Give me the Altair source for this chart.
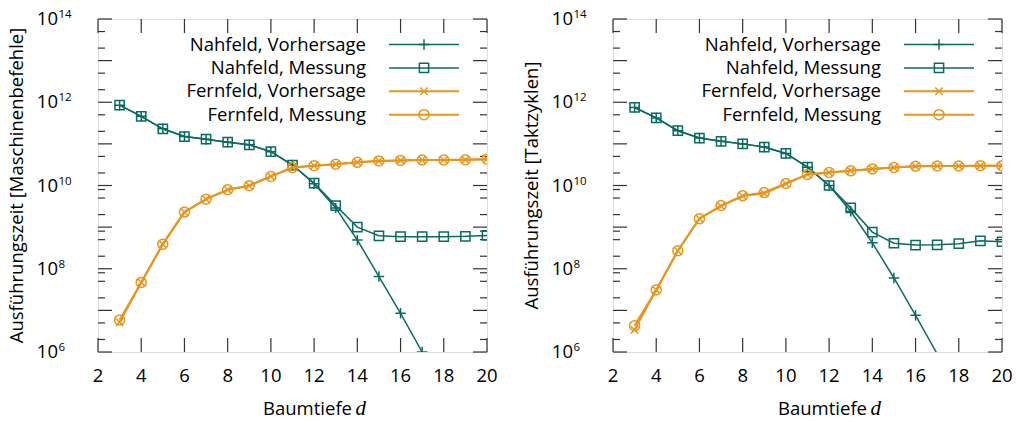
import altair as alt
import pandas as pd

# ---------------- data ----------------
depth = list(range(3, 21))
depth_pred = list(range(3, 18))

# left panel: Maschinenbefehle
left_nah_vor = [8.5e11, 4.6e11, 2.3e11, 1.5e11, 1.3e11, 1.1e11, 9.5e10, 6.5e10,
                3.1e10, 1.1e10, 2.9e9, 4.9e8, 6.5e7, 8.5e6, 1.0e6]
left_nah_mes = [8.5e11, 4.6e11, 2.3e11, 1.5e11, 1.3e11, 1.1e11, 9.5e10, 6.5e10,
                3.1e10, 1.14e10, 3.3e9, 1.0e9, 6.2e8, 5.9e8, 5.9e8, 5.9e8, 6.0e8, 6.3e8]
left_fern_vor = [5.2e6, 4.7e7, 3.9e8, 2.3e9, 4.7e9, 7.9e9, 9.9e9, 1.65e10, 2.7e10,
                 3.0e10, 3.25e10, 3.6e10, 3.9e10, 4.0e10, 4.1e10, 4.1e10, 4.15e10, 4.3e10]
left_fern_mes = [5.9e6, 4.7e7, 3.9e8, 2.3e9, 4.7e9, 7.9e9, 9.9e9, 1.65e10, 2.7e10,
                 3.0e10, 3.25e10, 3.6e10, 3.9e10, 4.0e10, 4.1e10, 4.1e10, 4.15e10, 4.3e10]

# right panel: Taktzyklen
right_nah_vor = [7.5e11, 4.2e11, 2.07e11, 1.38e11, 1.15e11, 1.0e11, 8.4e10, 5.9e10,
                 2.75e10, 1.0e10, 2.4e9, 4.2e8, 6.0e7, 7.6e6, 9.0e5]
right_nah_mes = [7.5e11, 4.2e11, 2.07e11, 1.38e11, 1.15e11, 1.0e11, 8.4e10, 5.9e10,
                 2.75e10, 1.0e10, 2.9e9, 7.6e8, 4.1e8, 3.7e8, 3.75e8, 4.0e8, 4.7e8, 4.45e8]
right_fern_vor = [3.4e6, 3.1e7, 2.7e8, 1.6e9, 3.2e9, 5.6e9, 6.4e9, 1.1e10, 1.85e10,
                  2.05e10, 2.25e10, 2.5e10, 2.7e10, 2.9e10, 2.95e10, 2.95e10, 3.0e10, 3.0e10]
right_fern_mes = [4.3e6, 3.1e7, 2.7e8, 1.6e9, 3.3e9, 5.7e9, 6.8e9, 1.12e10, 1.85e10,
                  2.05e10, 2.25e10, 2.5e10, 2.7e10, 2.9e10, 2.95e10, 2.95e10, 3.0e10, 3.0e10]

series_names = ["Nahfeld, Vorhersage", "Nahfeld, Messung",
                "Fernfeld, Vorhersage", "Fernfeld, Messung"]

x_tick_values = list(range(2, 21, 2))
y_major_ticks = [10.0 ** k for k in range(6, 15)]
y_minor_ticks = [m * 10.0 ** k for k in range(6, 14) for m in (2, 5)] + [8e7, 8e8, 8e9]
y_label_values = [1e6, 1e8, 1e10, 1e12, 1e14]
y_label_exps = ["6", "8", "10", "12", "14"]

# ---------------- styling ----------------
W, H = 389, 333
TEAL = "#0b6b60"
ORANGE = "#e8951c"
FONT = "Open Sans"
FS = 18.5
PLUS = "M-1,0L1,0M0,-1L0,1"
CROSS = "M-1,-1L1,1M-1,1L1,-1"
colors = [TEAL, TEAL, ORANGE, ORANGE]
shapes = [PLUS, "square", CROSS, "circle"]
sizes = [110, 85, 55, 100]
widths = [1.5, 1.5, 2.0, 2.0]

xscale = alt.Scale(domain=[2, 20], nice=False, zero=False)
yscale = alt.Scale(type="log", domain=[1e6, 1e14], nice=False)


def panel(nv, nm, fv, fm, ytitle):
    vals = [nv, nm, fv, fm]
    layers = []
    # ticks (inward, mirrored)
    tmaj = pd.DataFrame({"v": y_major_ticks})
    tmin = pd.DataFrame({"v": y_minor_ticks})
    tx = pd.DataFrame({"v": x_tick_values})
    tick_style = dict(color="#333333", strokeWidth=1.2)
    for df, ln in ((tmaj, 14), (tmin, 7)):
        layers.append(alt.Chart(df).mark_rule(**tick_style).encode(
            y=alt.Y("v:Q", scale=yscale, axis=None), x=alt.value(0), x2=alt.value(ln)))
        layers.append(alt.Chart(df).mark_rule(**tick_style).encode(
            y=alt.Y("v:Q", scale=yscale, axis=None), x=alt.value(W), x2=alt.value(W - ln)))
    layers.append(alt.Chart(tx).mark_rule(**tick_style).encode(
        x=alt.X("v:Q", scale=xscale, axis=None), y=alt.value(H), y2=alt.value(H - 14)))
    layers.append(alt.Chart(tx).mark_rule(**tick_style).encode(
        x=alt.X("v:Q", scale=xscale, axis=None), y=alt.value(0), y2=alt.value(14)))

    # tick labels
    ylab = pd.DataFrame({"v": y_label_values, "e": y_label_exps, "b": ["10"] * 5})
    layers.append(alt.Chart(ylab).mark_text(align="right", baseline="middle", font=FONT,
                                            fontSize=FS, color="black").encode(
        y=alt.Y("v:Q", scale=yscale, axis=None), x=alt.value(-40), text="b:N"))
    layers.append(alt.Chart(ylab).mark_text(align="left", baseline="alphabetic", font=FONT,
                                            fontSize=11.5, color="black", dy=-1).encode(
        y=alt.Y("v:Q", scale=yscale, axis=None), x=alt.value(-39.5), text="e:N"))
    layers.append(alt.Chart(tx).mark_text(align="center", baseline="middle", font=FONT,
                                          fontSize=FS, color="black").encode(
        x=alt.X("v:Q", scale=xscale, axis=None), y=alt.value(H + 24), text="v:Q"))

    # axis titles
    layers.append(alt.Chart(pd.DataFrame({"t": ["Baumtiefe"]})).mark_text(
        align="right", baseline="alphabetic", font=FONT, fontSize=FS, color="black").encode(
        x=alt.value(254), y=alt.value(H + 62.5), text="t:N"))
    layers.append(alt.Chart(pd.DataFrame({"t": ["d"]})).mark_text(
        align="left", baseline="alphabetic", font="Liberation Serif", fontStyle="italic",
        fontSize=21, color="black").encode(
        x=alt.value(257.5), y=alt.value(H + 62.5), text="t:N"))
    layers.append(alt.Chart(pd.DataFrame({"t": [ytitle]})).mark_text(
        angle=270, align="center", baseline="middle", font=FONT, fontSize=FS,
        color="black").encode(x=alt.value(-81.5), y=alt.value(H / 2), text="t:N"))

    # data
    for name, v, col, shp, sz, sw in zip(series_names, vals, colors, shapes, sizes, widths):
        d = depth if len(v) == len(depth) else depth_pred
        df = pd.DataFrame({"d": d, "value": v})
        layers.append(alt.Chart(df).mark_line(color=col, strokeWidth=sw, clip=True).encode(
            x=alt.X("d:Q", scale=xscale, axis=None),
            y=alt.Y("value:Q", scale=yscale, axis=None)))
        layers.append(alt.Chart(df).transform_filter("datum.value >= 1e6").mark_point(
            shape=shp, size=sz, filled=False, color=col, strokeWidth=1.5, opacity=1,
            clip=True).encode(
            x=alt.X("d:Q", scale=xscale, axis=None),
            y=alt.Y("value:Q", scale=yscale, axis=None)))

    # legend
    for i, (name, col, shp, sz, sw) in enumerate(zip(series_names, colors, shapes, sizes, widths)):
        ly = 25.6 + 23.35 * i
        one = pd.DataFrame({"t": [name]})
        layers.append(alt.Chart(one).mark_text(align="right", baseline="middle", font=FONT,
                                               fontSize=FS, color="black").encode(
            x=alt.value(268), y=alt.value(ly), text="t:N"))
        layers.append(alt.Chart(one).mark_rule(color=col, strokeWidth=sw).encode(
            x=alt.value(291), x2=alt.value(361), y=alt.value(ly)))
        layers.append(alt.Chart(one).mark_point(shape=shp, size=sz, filled=False, color=col,
                                                strokeWidth=1.5, opacity=1).encode(
            x=alt.value(326), y=alt.value(ly)))

    return alt.layer(*layers).properties(width=W, height=H)


left = panel(left_nah_vor, left_nah_mes, left_fern_vor, left_fern_mes,
             "Ausführungszeit [Maschinenbefehle]")
right = panel(right_nah_vor, right_nah_mes, right_fern_vor, right_fern_mes,
              "Ausführungszeit [Taktzyklen]")

chart = alt.hconcat(left, right, spacing=126, bounds="flush").properties(
    padding={"left": 7, "top": 8, "right": 0, "bottom": 0}
).configure_view(stroke="#222222", strokeWidth=1.6).configure(background="white")

chart.save("out.html", embed_options={"renderer": "svg", "actions": False})
